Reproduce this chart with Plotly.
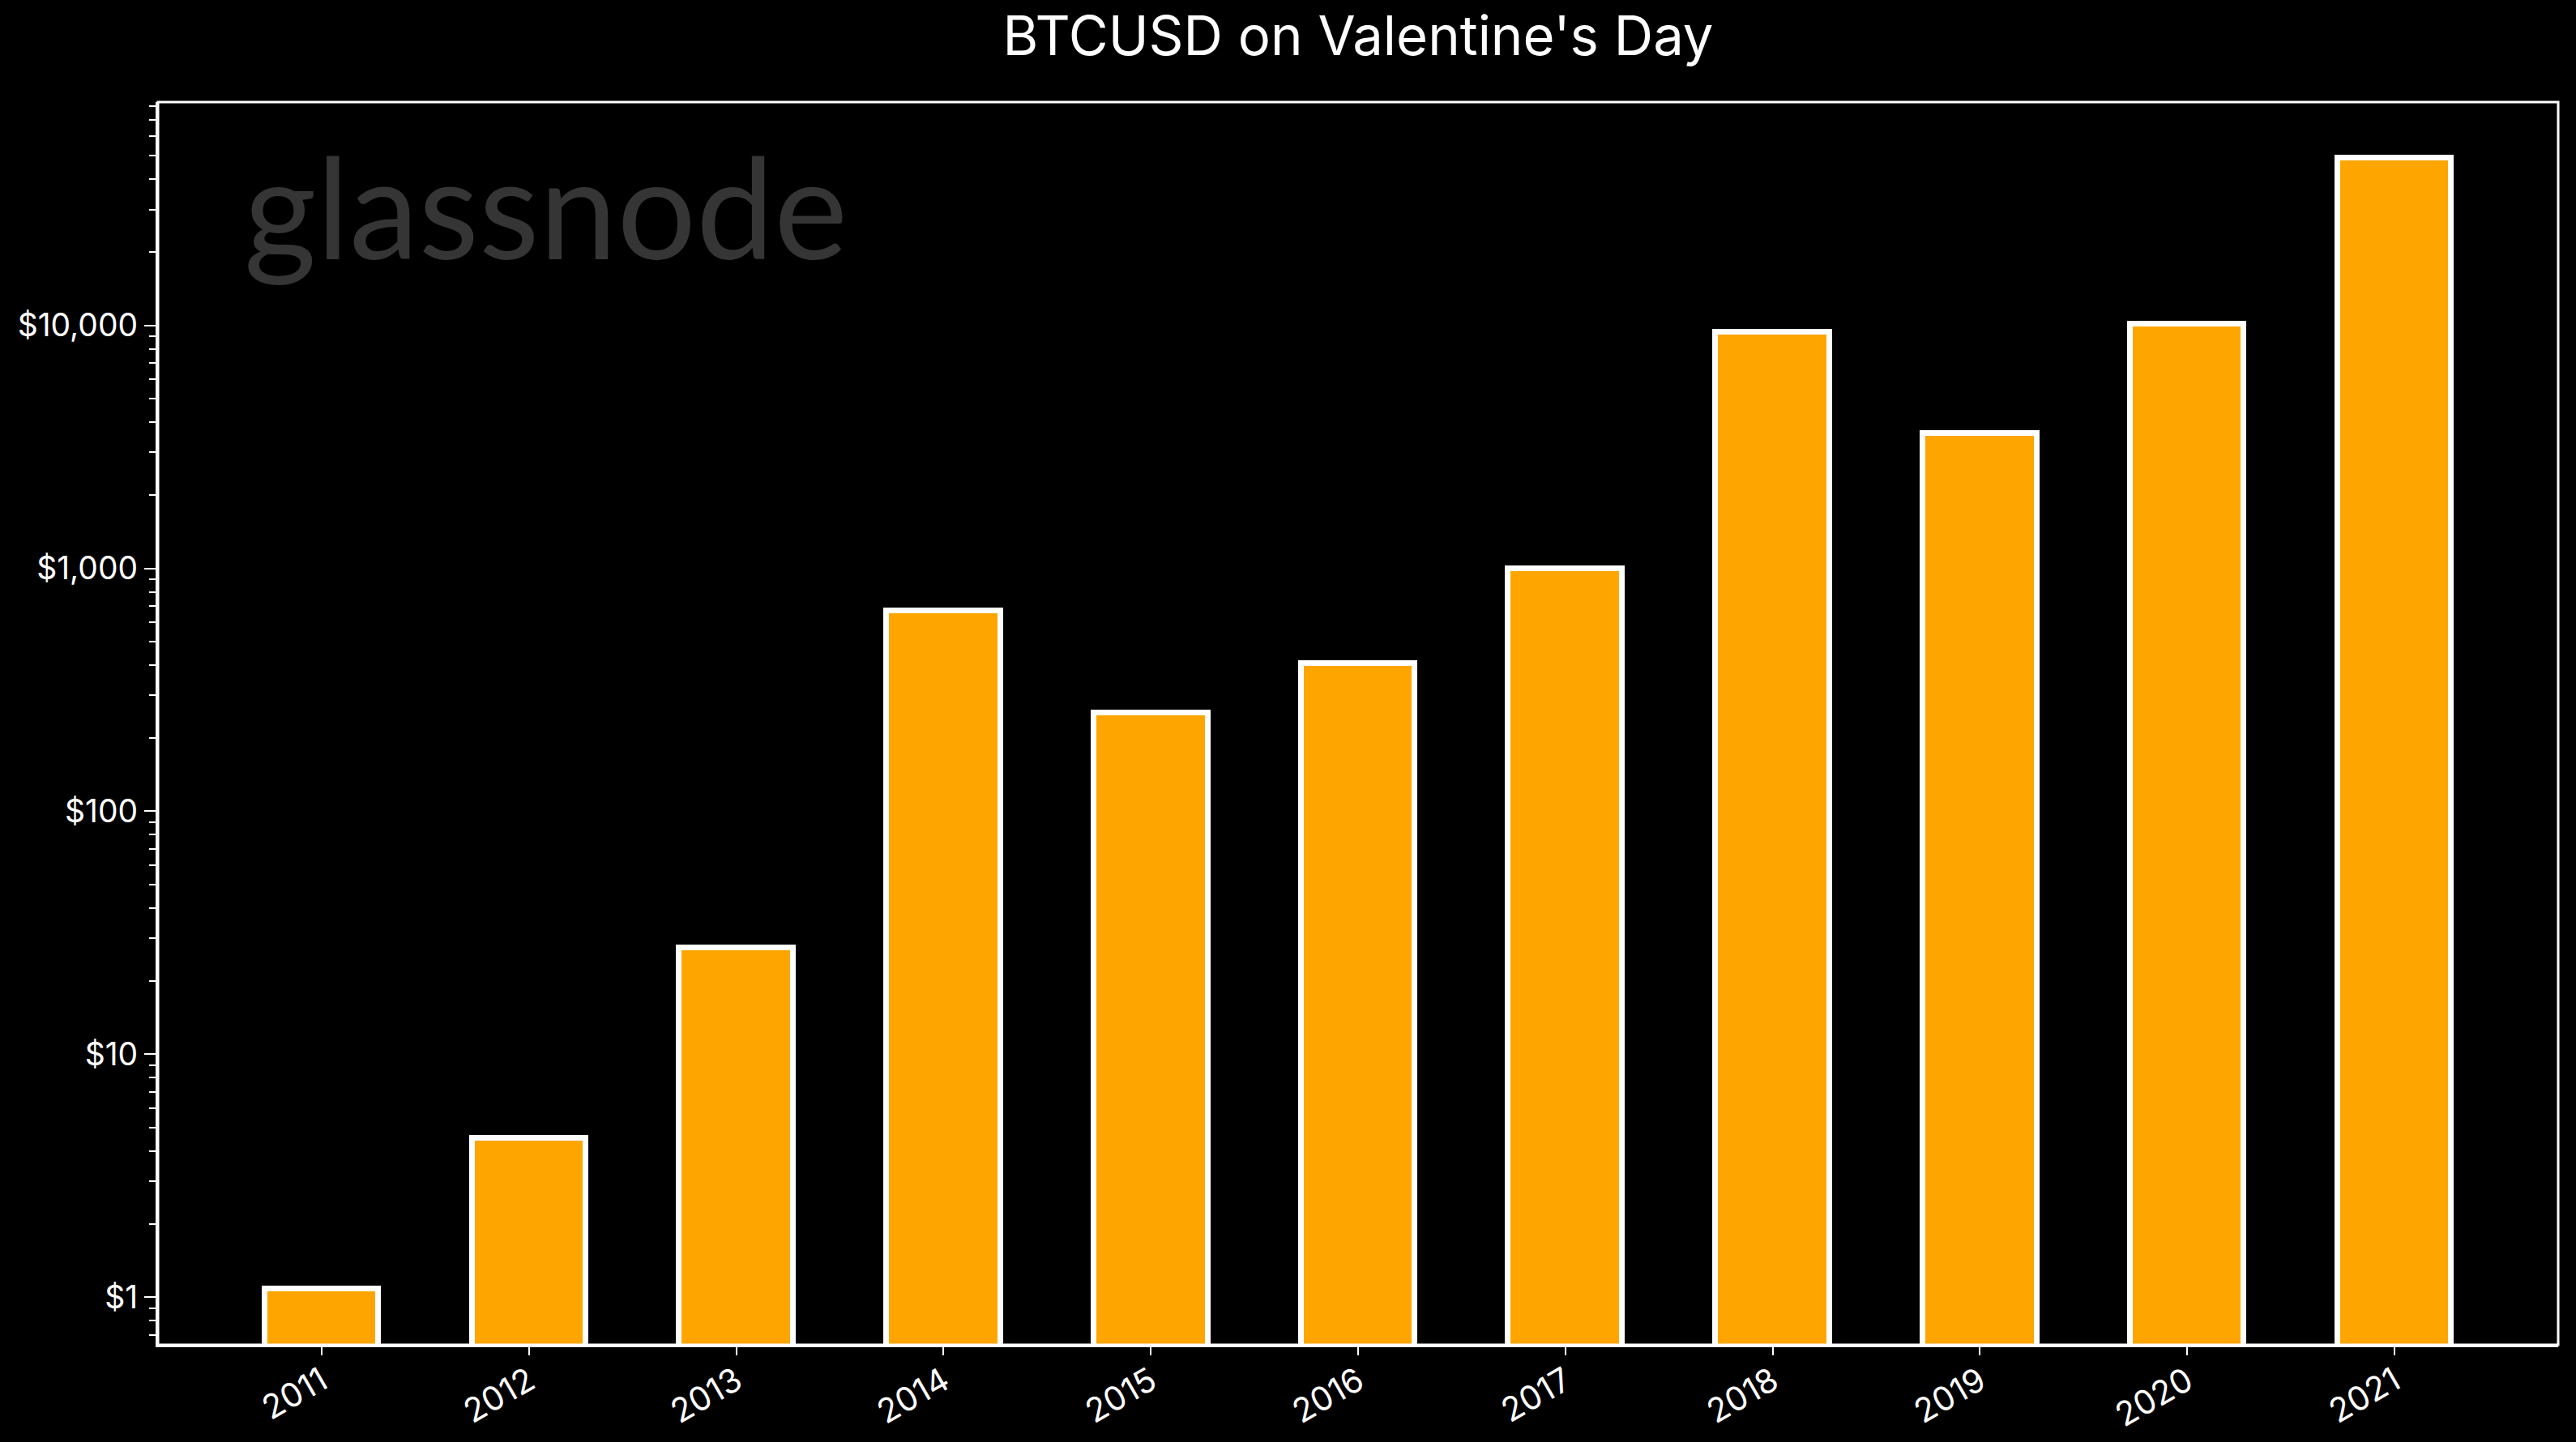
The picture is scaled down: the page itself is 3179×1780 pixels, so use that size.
import plotly.graph_objects as go

years = ["2011", "2012", "2013", "2014", "2015", "2016", "2017", "2018", "2019", "2020", "2021"]
prices = [1.08, 4.5, 27.5, 667, 254, 405, 1000, 9400, 3580, 10160, 48900]

y_tickvals = [1, 10, 100, 1000, 10000]
y_ticktext = ["$1", "$10", "$100", "$1,000", "$10,000"]

W, H = 3179, 1780
FONT = "Inter"

fig = go.Figure()
fig.add_trace(go.Bar(
    x=years, y=prices, width=0.55,
    marker=dict(color="#FFA500", line=dict(color="white", width=7)),
))

fig.update_layout(
    width=W, height=H,
    paper_bgcolor="black", plot_bgcolor="black",
    margin=dict(l=195, r=22, t=126, b=120, autoexpand=False),
    showlegend=False,
    font=dict(family=FONT, color="white", size=38),
    title=dict(text="BTCUSD on Valentine's Day", x=0.5, xref="paper", xanchor="center",
               y=1 - 45 / H, yanchor="middle", font=dict(size=67, family=FONT, color="white")),
    bargap=0,
)
fig.update_xaxes(
    type="category", range=[-0.79, 10.79], automargin=False,
    showline=True, linecolor="white", linewidth=3, mirror=False,
    ticks="outside", ticklen=10, tickwidth=2, tickcolor="white",
    ticklabelstandoff=-8,
    tickangle=-30, tickfont=dict(size=41, color="white", family=FONT),
    showgrid=False, zeroline=False,
)
fig.update_yaxes(
    type="log", range=[-0.196, 4.919], automargin=False,
    tickmode="array", tickvals=y_tickvals, ticktext=y_ticktext,
    showline=True, linecolor="white", linewidth=3, mirror=False,
    ticks="outside", ticklen=14, tickwidth=2, tickcolor="white",
    tickfont=dict(size=39, color="white", family=FONT),
    minor=dict(ticks="outside", ticklen=8, tickwidth=2, tickcolor="white", dtick="D1", showgrid=False),
    showgrid=False, zeroline=False,
)
fig.add_shape(type="rect", xref="paper", yref="paper", x0=0, y0=0, x1=1, y1=1,
              line=dict(color="white", width=3), layer="above")
fig.add_annotation(
    text="glassnode", xref="paper", yref="paper", x=0.035, y=0.917,
    xanchor="left", yanchor="middle", showarrow=False,
    font=dict(size=172, color="#353535", family="Lato"),
)

fig.write_html("out.html", config={"displayModeBar": False},
               post_script="document.body.style.margin='0';document.body.style.overflow='hidden';")
